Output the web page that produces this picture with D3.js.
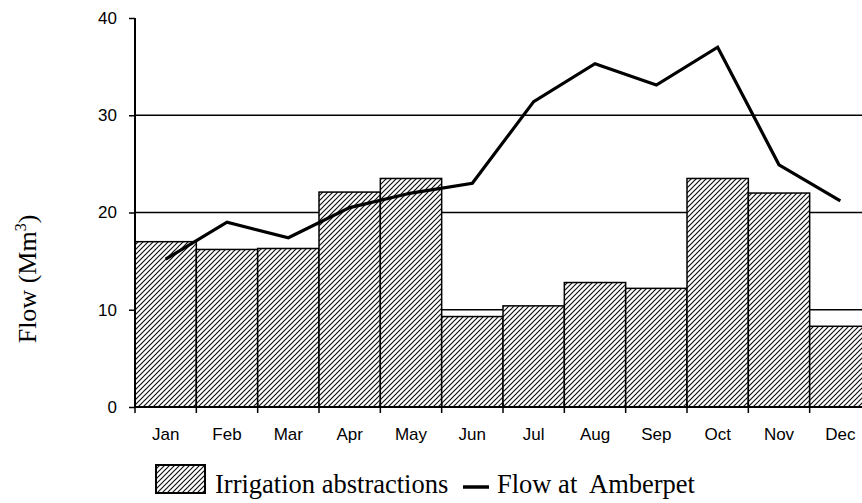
<!DOCTYPE html>
<html>
<head>
<meta charset="utf-8">
<script src="https://cdn.jsdelivr.net/npm/d3@7"></script>
<style>
  body { margin: 0; background: #fff; }
  svg { display: block; }
</style>
</head>
<body>
<script>
// data
var months = ['Jan', 'Feb', 'Mar', 'Apr', 'May', 'Jun', 'Jul', 'Aug', 'Sep', 'Oct', 'Nov', 'Dec'];
var irrigation = [17.0, 16.2, 16.3, 22.1, 23.5, 9.3, 10.4, 12.8, 12.2, 23.5, 22.0, 8.3];
var flow = [15.2, 19.0, 17.4, 20.5, 22.0, 23.0, 31.4, 35.3, 33.1, 37.0, 24.9, 21.2];
var yTicks = [0, 10, 20, 30, 40];
var gridValues = [10, 20, 30];

var width = 862, height = 503;

var svg = d3.select('body').append('svg')
  .attr('width', width)
  .attr('height', height);

// hatch pattern for bars
var hp = 5;
var defs = svg.append('defs');
var pat = defs.append('pattern')
  .attr('id', 'hatch')
  .attr('patternUnits', 'userSpaceOnUse')
  .attr('width', hp)
  .attr('height', hp);
pat.append('rect').attr('width', hp).attr('height', hp).attr('fill', '#fff');
pat.append('path')
  .attr('d', 'M-1,1 L1,-1 M0,' + hp + ' L' + hp + ',0 M' + (hp - 1) + ',' + (hp + 1) + ' L' + (hp + 1) + ',' + (hp - 1))
  .attr('stroke', '#111')
  .attr('stroke-width', 1.2);

var x = d3.scaleBand().domain(months).range([135, 871]).padding(0);
var y = d3.scaleLinear().domain([0, 40]).range([407, 18]);

// gridlines (behind bars)
svg.selectAll('line.grid')
  .data(gridValues)
  .enter()
  .append('line')
  .attr('class', 'grid')
  .attr('x1', x.range()[0])
  .attr('x2', width)
  .attr('y1', function (d) { return y(d); })
  .attr('y2', function (d) { return y(d); })
  .attr('stroke', '#000')
  .attr('stroke-width', 1.5);

// bars
svg.selectAll('rect.bar')
  .data(irrigation)
  .enter()
  .append('rect')
  .attr('class', 'bar')
  .attr('x', function (d, i) { return x(months[i]); })
  .attr('width', x.bandwidth())
  .attr('y', function (d) { return y(d); })
  .attr('height', function (d) { return y(0) - y(d); })
  .attr('fill', 'url(#hatch)')
  .attr('stroke', '#000')
  .attr('stroke-width', 1.5);

// y axis
var yAxis = d3.axisLeft(y).tickValues(yTicks).tickSize(6).tickPadding(12);
var gy = svg.append('g')
  .attr('transform', 'translate(' + x.range()[0] + ',0)')
  .call(yAxis);
gy.select('.domain').attr('stroke-width', 2).attr('d', 'M0,' + y(40) + 'V' + y(0));
gy.selectAll('.tick line').attr('stroke-width', 1.5);
gy.selectAll('.tick text')
  .attr('font-family', 'Liberation Sans, Arial, sans-serif')
  .attr('font-size', 17)
  .attr('fill', '#000');

// x axis: ticks at band boundaries, labels centered
var gx = svg.append('g').attr('transform', 'translate(0,' + y(0) + ')');
gx.append('line')
  .attr('x1', x.range()[0])
  .attr('x2', width)
  .attr('stroke', '#000')
  .attr('stroke-width', 2);
gx.selectAll('line.tk')
  .data(months)
  .enter()
  .append('line')
  .attr('class', 'tk')
  .attr('x1', function (d) { return x(d); })
  .attr('x2', function (d) { return x(d); })
  .attr('y1', -4)
  .attr('y2', 6)
  .attr('stroke', '#000')
  .attr('stroke-width', 1.5);
gx.selectAll('text')
  .data(months)
  .enter()
  .append('text')
  .attr('x', function (d) { return x(d) + x.bandwidth() / 2; })
  .attr('y', 33)
  .attr('text-anchor', 'middle')
  .attr('font-family', 'Liberation Sans, Arial, sans-serif')
  .attr('font-size', 17)
  .text(function (d) { return d; });

// flow line
var line = d3.line()
  .x(function (d, i) { return x(months[i]) + x.bandwidth() / 2; })
  .y(function (d) { return y(d); });
svg.append('path')
  .datum(flow)
  .attr('d', line)
  .attr('fill', 'none')
  .attr('stroke', '#000')
  .attr('stroke-width', 3.2);

// y title
var yt = svg.append('text')
  .attr('transform', 'translate(36,279) rotate(-90)')
  .attr('text-anchor', 'middle')
  .attr('font-family', 'Liberation Serif, Times New Roman, serif')
  .attr('font-size', 26);
yt.append('tspan').text('Flow (Mm');
yt.append('tspan').attr('font-size', 16).attr('dy', -10).text('3');
yt.append('tspan').attr('dy', 10).text(')');

// legend
var lg = svg.append('g').attr('font-family', 'Liberation Serif, Times New Roman, serif').attr('font-size', 26.5);
lg.append('rect')
  .attr('x', 156).attr('y', 465).attr('width', 49).attr('height', 28)
  .attr('fill', 'url(#hatch)').attr('stroke', '#000').attr('stroke-width', 2);
lg.append('text').attr('x', 215).attr('y', 493).text('Irrigation abstractions');
lg.append('line')
  .attr('x1', 463).attr('x2', 489).attr('y1', 487).attr('y2', 487)
  .attr('stroke', '#000').attr('stroke-width', 3.5);
lg.append('text').attr('x', 497).attr('y', 493)
  .style('white-space', 'pre')
  .text('Flow at  Amberpet');
</script>
</body>
</html>
